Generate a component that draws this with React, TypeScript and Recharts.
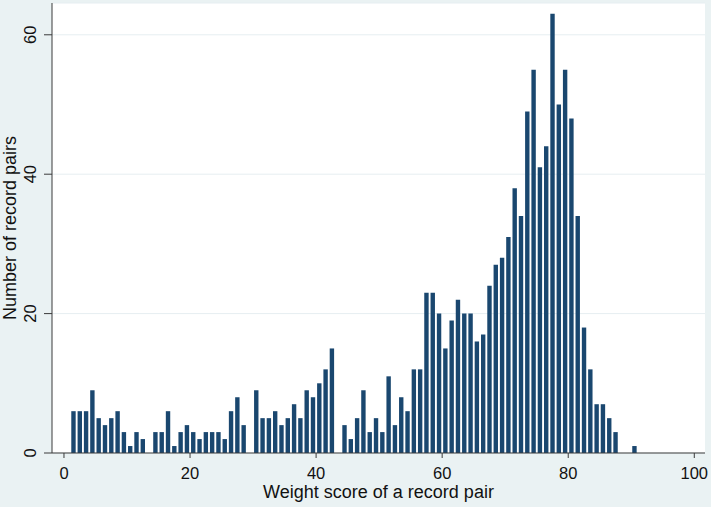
import React from 'react';
import { ComposedChart, Bar, XAxis, YAxis, CartesianGrid, Label } from 'recharts';

const binStarts: number[] = Array.from({ length: 90 }, (_, i) => i + 1);
const counts: number[] = [
  6, 6, 6, 9, 5, 4, 5, 6, 3, 1,
  3, 2, 0, 3, 3, 6, 1, 3, 4, 3,
  2, 3, 3, 3, 2, 6, 8, 4, 0, 9,
  5, 5, 6, 4, 5, 7, 5, 9, 8, 10,
  12, 15, 0, 4, 2, 5, 9, 3, 5, 3,
  11, 4, 8, 6, 12, 12, 23, 23, 20, 15,
  19, 22, 20, 20, 16, 17, 24, 27, 28, 31,
  38, 34, 49, 55, 41, 44, 63, 50, 55, 48,
  34, 18, 12, 7, 7, 5, 3, 0, 0, 1,
];
const xTicks: number[] = [0, 20, 40, 60, 80, 100];
const yTicks: number[] = [0, 20, 40, 60];
const xTitle = 'Weight score of a record pair';
const yTitle = 'Number of record pairs';

const data = binStarts.map((b, i) => ({ x: b + 0.5, count: counts[i] }));

const FONT = '"Liberation Sans", Arial, Helvetica, sans-serif';
const BG = '#eaf2f3';
const BAR = '#1a476f';
const AXIS = '#3a3a3a';

const XTick = (props: any) => {
  const { x, y, payload } = props;
  return (
    <text x={x} y={y + 19} textAnchor="middle" fontFamily={FONT} fontSize={16.5} fill="#111">
      {payload.value}
    </text>
  );
};

const YTick = (props: any) => {
  const { x, y, payload } = props;
  return (
    <text
      transform={`translate(${x - 6.5},${y}) rotate(-90)`}
      textAnchor="middle"
      fontFamily={FONT}
      fontSize={16.5}
      fill="#111"
    >
      {payload.value}
    </text>
  );
};

const YTitle = (props: any) => {
  const vb = props.viewBox;
  return (
    <text
      transform={`translate(${vb.x + 15.5},${vb.y + vb.height / 2}) rotate(-90)`}
      textAnchor="middle"
      fontFamily={FONT}
      fontSize={18}
      fill="#111"
    >
      {yTitle}
    </text>
  );
};

const XTitle = (props: any) => {
  const vb = props.viewBox;
  return (
    <text x={vb.x + vb.width / 2} y={vb.y + 45} textAnchor="middle" fontFamily={FONT} fontSize={18} fill="#111">
      {xTitle}
    </text>
  );
};

export default function App() {
  return (
    <div style={{ position: 'absolute', left: 0, top: 0, width: 711, height: 507, background: BG }}>
      <ComposedChart
        width={711}
        height={507}
        data={data}
        margin={{ top: 3, right: 6, left: 0, bottom: 0 }}
        style={{ background: BG }}
      >
        <CartesianGrid vertical={false} stroke="#e6eef1" fill="#ffffff" fillOpacity={1} />
        <XAxis
          type="number"
          dataKey="x"
          domain={[-1.9, 101.7]}
          allowDataOverflow
          ticks={xTicks}
          height={54}
          tickSize={5}
          tickLine={{ stroke: AXIS }}
          axisLine={{ stroke: AXIS }}
          tick={<XTick />}
        >
          <Label content={<XTitle />} />
        </XAxis>
        <YAxis
          type="number"
          domain={[0, 64.56]}
          allowDataOverflow
          ticks={yTicks}
          width={52}
          tickSize={8}
          tickLine={{ stroke: AXIS }}
          axisLine={{ stroke: AXIS }}
          tick={<YTick />}
        >
          <Label content={<YTitle />} />
        </YAxis>
        <Bar dataKey="count" fill={BAR} barSize={4.4} isAnimationActive={false} />
      </ComposedChart>
    </div>
  );
}
